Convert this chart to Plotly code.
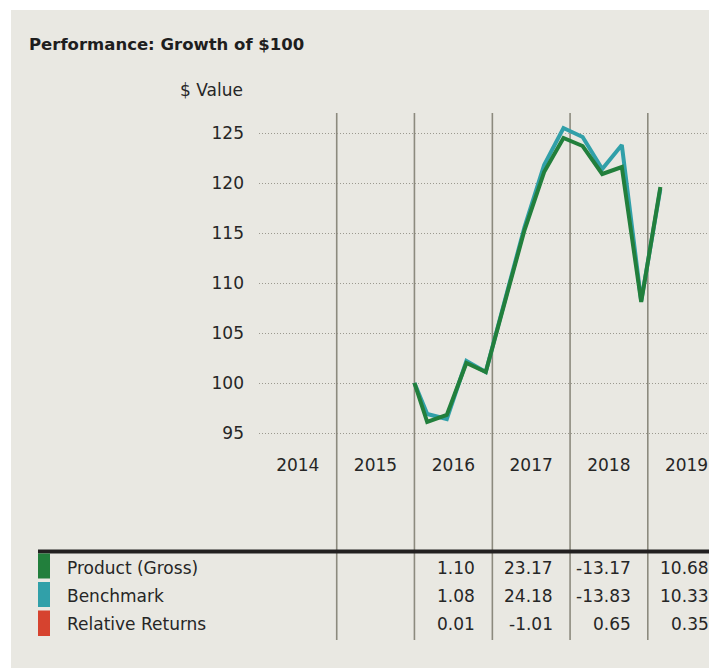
import plotly.graph_objects as go

# ---------------- data ----------------
dates = ["2016-01-01", "2016-03-01", "2016-06-01", "2016-09-01", "2016-12-01",
         "2017-03-01", "2017-06-01", "2017-09-01", "2017-12-01",
         "2018-03-01", "2018-06-01", "2018-09-01", "2018-12-01", "2019-03-01"]
product = [100.0, 96.1, 96.8, 102.0, 101.1, 108.0, 115.3, 121.1, 124.5,
           123.7, 120.9, 121.6, 108.1, 119.6]
benchmark = [100.0, 96.9, 96.4, 102.2, 101.1, 108.2, 115.6, 121.8, 125.5,
             124.6, 121.4, 123.8, 108.2, 119.4]

years = [2014, 2015, 2016, 2017, 2018, 2019]
y_ticks = [95, 100, 105, 110, 115, 120, 125]

series_names = ["Product (Gross)", "Benchmark", "Relative Returns"]
returns_product = [None, None, 1.10, 23.17, -13.17, 10.68]
returns_benchmark = [None, None, 1.08, 24.18, -13.83, 10.33]
returns_relative = [None, None, 0.01, -1.01, 0.65, 0.35]

title_text = "Performance: Growth of $100"
y_title = "$ Value"

# ---------------- styles / layout geometry ----------------
GREEN = "#227f3c"
TEAL = "#31a0a9"
RED = "#d6432f"
series_colors = [GREEN, TEAL, RED]
PANEL = "#e9e8e2"
VLINE = "#8c8a7e"
GRID = "#9b998f"
TEXT = "#262626"
FONT = "DejaVu Sans, sans-serif"
FS = 17

OFF = 8                      # page body margin
W, H = 717 - OFF, 668 - OFF  # figure size
# plot area in page pixels
PL, PR, PT, PB = 259, 717, 113, 443
L, R, T, B = PL - OFF, PR - OFF, PT - OFF, PB - OFF
COL_W = 77.75  # px per year


def px_x(px):
    return (px - OFF - L) / (R - L)


def px_y(py):
    return (B - (py - OFF)) / (B - T)


fig = go.Figure()
fig.add_trace(go.Scatter(x=dates, y=benchmark, mode="lines", name=series_names[1],
                         line=dict(color=TEAL, width=4), hoverinfo="skip"))
fig.add_trace(go.Scatter(x=dates, y=product, mode="lines", name=series_names[0],
                         line=dict(color=GREEN, width=4), hoverinfo="skip"))

shapes = []
# panel background
shapes.append(dict(type="rect", xref="paper", yref="paper",
                   x0=px_x(11), x1=px_x(720), y0=px_y(10), y1=px_y(672),
                   fillcolor=PANEL, line=dict(width=0), layer="below"))
# year boundary lines
for y in years[1:]:
    shapes.append(dict(type="line", xref="x", yref="paper",
                       x0=f"{y}-01-01", x1=f"{y}-01-01",
                       y0=px_y(113), y1=px_y(640),
                       line=dict(color=VLINE, width=1.6), layer="below"))
# thick table rule
shapes.append(dict(type="line", xref="paper", yref="paper",
                   x0=px_x(38), x1=px_x(720), y0=px_y(551.5), y1=px_y(551.5),
                   line=dict(color="#222020", width=4)))

row_y = [568, 596, 624]
swatch = [(553.5, 578.5), (582, 607), (610.5, 636)]
annotations = []
for i, name in enumerate(series_names):
    shapes.append(dict(type="rect", xref="paper", yref="paper",
                       x0=px_x(38), x1=px_x(50),
                       y0=px_y(swatch[i][1]), y1=px_y(swatch[i][0]),
                       fillcolor=series_colors[i], line=dict(width=0)))
    annotations.append(dict(xref="paper", yref="paper", x=px_x(65), y=px_y(row_y[i]),
                            text=name, showarrow=False, xanchor="left", yanchor="middle",
                            font=dict(family=FONT, size=FS, color=TEXT)))

for i, vals in enumerate([returns_product, returns_benchmark, returns_relative]):
    for yr, v in zip(years, vals):
        if v is None:
            continue
        right_px = PL + (yr + 1 - years[0]) * COL_W - 15
        annotations.append(dict(xref="paper", yref="paper", x=px_x(right_px), y=px_y(row_y[i]),
                                text=f"{v:.2f}", showarrow=False, xanchor="right",
                                yanchor="middle",
                                font=dict(family=FONT, size=FS, color=TEXT)))

annotations.append(dict(xref="paper", yref="paper", x=px_x(27), y=px_y(44),
                        text=f"<b>{title_text}</b>", showarrow=False,
                        xanchor="left", yanchor="middle",
                        font=dict(family="DejaVu Sans, sans-serif", size=16.5, color="#1e1e1e")))
annotations.append(dict(xref="paper", yref="paper", x=px_x(245), y=px_y(90),
                        text=y_title, showarrow=False,
                        xanchor="right", yanchor="middle",
                        font=dict(family=FONT, size=FS, color=TEXT)))

fig.update_layout(
    width=W, height=H,
    margin=dict(l=L, r=W - R, t=T, b=H - B, pad=0),
    paper_bgcolor="white",
    plot_bgcolor="rgba(0,0,0,0)",
    showlegend=False,
    shapes=shapes,
    annotations=annotations,
    xaxis=dict(type="date", range=["2014-01-01", "2019-11-22"],
               tickvals=[f"{y}-07-02" for y in years],
               ticktext=[str(y) for y in years],
               showgrid=False, zeroline=False, showline=False, ticks="",
               ticklabelstandoff=10,
               tickfont=dict(family=FONT, size=FS, color=TEXT), fixedrange=True),
    yaxis=dict(range=[94, 127], tickvals=y_ticks,
               ticktext=[str(v) for v in y_ticks],
               showgrid=True, gridcolor=GRID, gridwidth=1, griddash="1px,2px",
               zeroline=False, showline=False, ticks="",
               ticklabelstandoff=14,
               tickfont=dict(family=FONT, size=FS, color=TEXT), fixedrange=True),
)

fig.write_html("out.html")
